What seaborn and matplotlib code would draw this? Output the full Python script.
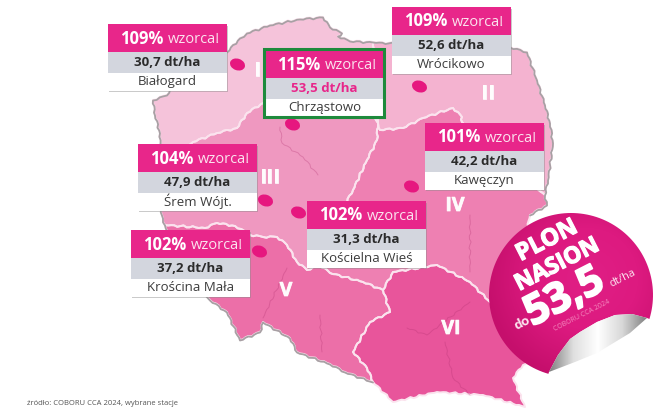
import numpy as np
import matplotlib
matplotlib.use("Agg")
import matplotlib.pyplot as plt
import matplotlib.path as mpath
import matplotlib.patheffects as pe
from matplotlib.patches import Polygon, Rectangle
from matplotlib.transforms import Affine2D
from matplotlib.colors import LinearSegmentedColormap
import pandas as pd
import seaborn as sns

# station data
stations = ["Białogard", "Chrząstowo", "Wrócikowo", "Kawęczyn", "Śrem Wójt.", "Kościelna Wieś", "Krościna Mała"]
pct = [109, 115, 109, 101, 104, 102, 102]
yields = ["30,7", "53,5", "52,6", "42,2", "47,9", "31,3", "37,2"]
dot_x = [237, 292, 419, 411, 265, 298, 259]
dot_y = [64, 124, 86, 186, 200, 212, 251]
box_x = [108, 265, 392, 425, 138, 307, 131]
box_y = [24, 50, 7, 123, 144, 201, 230]

numerals = ["I", "II", "III", "IV", "V", "VI"]
numeral_x = [258, 488, 270, 455, 286, 451]
numeral_y = [71, 94, 178, 206, 291, 329]

# map regions, traced in picture pixels
regions = {
    "I": [(193, 142), (185, 146), (160, 150), (160, 133), (155, 115), (153, 100), (167, 95), (180, 75), (205, 62),
          (227, 52), (240, 38), (247, 33), (270, 25), (300, 19), (323, 17), (330, 27), (342, 33), (338, 36), (350, 41),
          (373, 42), (375, 80), (378, 123), (375, 115), (263, 103), (247, 113), (237, 128), (217, 133)],
    "II": [(373, 42), (420, 45), (510, 47), (527, 52), (537, 80), (545, 105), (550, 123), (553, 143), (548, 180),
           (545, 195), (490, 150), (462, 122), (462, 117), (453, 108), (423, 118), (403, 128), (380, 130), (378, 123),
           (375, 80)],
    "III": [(193, 142), (217, 133), (237, 128), (247, 113), (263, 103), (375, 115), (378, 123), (377, 140), (367, 160),
            (353, 190), (345, 205), (320, 265), (307, 270), (297, 262), (287, 245), (277, 237), (263, 237), (250, 235),
            (235, 226), (217, 223), (205, 228), (165, 225), (163, 218), (155, 190), (160, 150), (185, 146)],
    "IV": [(378, 123), (380, 130), (403, 128), (423, 118), (453, 108), (462, 117), (462, 122), (490, 150), (545, 195),
           (547, 205), (530, 215), (520, 260), (490, 302), (470, 282), (437, 265), (393, 272), (383, 290), (363, 282),
           (330, 273), (320, 265), (345, 205), (353, 190), (367, 160), (377, 140)],
    "V": [(217, 223), (235, 226), (250, 235), (263, 237), (277, 237), (287, 245), (297, 262), (307, 270), (320, 265),
          (330, 273), (363, 282), (383, 290), (390, 312), (370, 322), (353, 352), (367, 368), (373, 382), (345, 372),
          (330, 364), (297, 352), (290, 338), (263, 322), (260, 332), (240, 340), (227, 312), (210, 300), (180, 270),
          (165, 225), (205, 228)],
    "VI": [(393, 272), (437, 265), (470, 282), (490, 302), (520, 340), (530, 360), (523, 365), (513, 378), (525, 407),
           (483, 395), (437, 392), (393, 402), (373, 382), (367, 368), (353, 352), (370, 322), (390, 312), (383, 290)],
}
region_colors = {"I": "#F5C3DA", "II": "#F4B3D0", "III": "#EF98C0", "IV": "#EE80B2", "V": "#EC6FA8", "VI": "#E8559B"}
outline = [(160, 150), (160, 133), (155, 115), (153, 100), (167, 95), (180, 75), (205, 62), (227, 52), (240, 38),
           (247, 33), (270, 25), (300, 19), (323, 17), (330, 27), (342, 33), (338, 36), (350, 41), (373, 42),
           (420, 45), (510, 47), (527, 52), (537, 80), (545, 105), (550, 123), (553, 143), (548, 180), (545, 195),
           (547, 205), (530, 215)]
outline_south = [(373, 382), (345, 372), (330, 364), (297, 352), (290, 338), (263, 322), (260, 332), (240, 340),
                 (227, 312), (210, 300), (180, 270), (165, 225), (163, 218), (155, 190), (160, 150)]
inner_lines = [[(280, 127), (282, 143), (303, 157), (318, 175)],
               [(470, 215), (470, 272)],
               [(445, 342), (453, 378), (470, 395)],
               [(407, 328), (427, 335), (470, 302)],
               [(287, 268), (263, 318)],
               [(320, 315), (322, 352)]]

PINK = "#E8268A"
GREY = "#D3D6DE"
DARK = "#2B2B2B"


def wiggle(pts, closed=False):
    # small regular ripple so the borders are not straight; same result for a shared edge in either direction
    seq = list(pts) + ([pts[0]] if closed else [])
    out = [seq[0]]
    for p, q in zip(seq[:-1], seq[1:]):
        flip = q < p
        a, b = (np.array(q, float), np.array(p, float)) if flip else (np.array(p, float), np.array(q, float))
        d = b - a
        n = max(int(np.hypot(*d) / 3), 2)
        t = np.linspace(0, 1, n + 1)
        nrm = np.array([-d[1], d[0]]) / (np.hypot(*d) + 1e-9)
        off = 1.1 * np.sin(t * n * 1.9) * np.sin(np.pi * t)
        seg = a + np.outer(t, d) + np.outer(off, nrm)
        if flip:
            seg = seg[::-1]
        out.extend(map(tuple, seg[1:]))
    return np.array(out)


sns.set_theme(style="white")
plt.rcParams["font.family"] = ["Open Sans", "DejaVu Sans"]

fig = plt.figure(figsize=(6.55, 4.09), dpi=100)
ax = fig.add_axes([0, 0, 1, 1])

# map
for name, pts in regions.items():
    w_pts = wiggle(pts, closed=True)
    ax.add_patch(Polygon(w_pts, closed=True, fc=region_colors[name], ec="none", zorder=1))
    ax.add_patch(Polygon(w_pts, closed=True, fc="none", ec="#FBE3EE", lw=1.4, zorder=2, joinstyle="round"))
for line in inner_lines:
    w_line = wiggle(line)
    ax.plot(w_line[:, 0], w_line[:, 1], color="#B0306F", alpha=0.3, lw=0.7, zorder=2)
for line in [outline, outline_south]:
    w_line = wiggle(line)
    ax.plot(w_line[:, 0], w_line[:, 1] + 0.5, color="#A8A0A4", lw=1.3, zorder=2.5, solid_capstyle="round")

for i, label in enumerate(numerals):
    ax.text(numeral_x[i], numeral_y[i], label, color="white", alpha=0.85, fontsize=14, fontweight="bold",
            ha="center", va="center", zorder=3,
            path_effects=[pe.withStroke(linewidth=0.6, foreground="white")])

# station dots
df = pd.DataFrame({"x": dot_x, "y": dot_y})
egg = mpath.Path.unit_circle().transformed(Affine2D().scale(1, 0.75).rotate_deg(-20))
sns.scatterplot(data=df, x="x", y="y", ax=ax, marker=egg, s=125, color="#E6177F", linewidth=0, zorder=4, legend=False)

# station labels
for i, name in enumerate(stations):
    x, y = box_x[i], box_y[i]
    w = 119
    ax.add_patch(Rectangle((x + 1, y + 2), w, 66, fc="#8A8A8A", alpha=0.45, ec="none", zorder=5))
    ax.add_patch(Rectangle((x, y), w, 28, fc=PINK, ec="none", zorder=6))
    ax.add_patch(Rectangle((x, y + 28), w, 21, fc=GREY, ec="none", zorder=6))
    ax.add_patch(Rectangle((x, y + 49), w, 18, fc="white", ec="none", zorder=6))
    best = pct[i] == max(pct)
    ax.text(x + 12, y + 14.5, f"{pct[i]}%", color="white", fontsize=12, fontweight="bold", va="center", zorder=7)
    ax.text(x + 60, y + 15.5, "wzorca!", color="#FBE3EE", fontsize=10.5, va="center", zorder=7)
    ax.text(x + w / 2, y + 38.5, f"{yields[i]} dt/ha", color=PINK if best else DARK, fontsize=9.5,
            fontweight="bold", ha="center", va="center", zorder=7)
    ax.text(x + w / 2, y + 57.5, name, color="#3C3C3C", fontsize=9.5, ha="center", va="center", zorder=7)
    if best:
        ax.add_patch(Rectangle((x - 1, y - 1), w + 1, 68, fc="none", ec="#1E8A3C", lw=2.2, zorder=8))

# sticker
cx, cy, r = 571, 295, 82
angles = np.radians(np.linspace(106, 377, 120))
arc = np.column_stack([cx + r * np.cos(angles), cy + r * np.sin(angles)])
curl_top = [(647, 318), (632, 314), (615, 315), (597, 322), (580, 332), (570, 339), (558, 355), (549, 372)]
curl_low = [(549, 372), (575, 362), (597, 353), (630, 333), (647, 318)]
sticker = Polygon(np.vstack([arc, curl_top]), closed=True, transform=ax.transData)
peel = Polygon(curl_top + curl_low, closed=True, transform=ax.transData)

yy, xx = np.mgrid[0:1:200j, 0:1:200j]
radial = np.hypot(xx - 0.6, yy - 0.4) * 1.6
sticker_cmap = LinearSegmentedColormap.from_list("st", ["#E01F85", "#DD1A80", "#C50F6C"])
im = ax.imshow(radial, extent=(cx - r, cx + r, cy + r, cy - r), cmap=sticker_cmap, vmin=0, vmax=1,
               aspect="auto", zorder=9)
ax.add_patch(sticker)
sticker.set_visible(False)
im.set_clip_path(sticker)

peel_cmap = LinearSegmentedColormap.from_list("pl", ["#7F7F7F", "#E0E0E0", "#FFFFFF", "#D8D8D8", "#808080"])
grad = np.linspace(0, 1, 200).reshape(1, -1)
im2 = ax.imshow(grad, extent=(549, 647, 372, 314), cmap=peel_cmap, aspect="auto", zorder=9)
ax.add_patch(peel)
peel.set_visible(False)
im2.set_clip_path(peel)

tilt = 27
thick = [pe.withStroke(linewidth=0.9, foreground="white")]
ax.text(547, 241, "PLON", color="white", fontsize=17, fontweight="bold", rotation=tilt, ha="center", va="center",
        rotation_mode="anchor", zorder=10, path_effects=thick)
ax.text(557, 265, "NASION", color="white", fontsize=16.5, fontweight="bold", rotation=tilt, ha="center", va="center",
        rotation_mode="anchor", zorder=10, path_effects=thick)
ax.text(565, 298, "53,5", color="white", fontsize=30, fontweight="bold", rotation=tilt, ha="center", va="center",
        rotation_mode="anchor", zorder=10, path_effects=[pe.withStroke(linewidth=1.4, foreground="white")])
ax.text(623, 278, "dt/ha", color="#FBE3EE", fontsize=8, rotation=tilt, ha="center", va="center",
        rotation_mode="anchor", zorder=10)
ax.text(522, 323, "do", color="#FBE3EE", fontsize=9.5, fontweight="bold", rotation=tilt, ha="center", va="center",
        rotation_mode="anchor", zorder=10)
ax.text(582, 316, "COBORU CCA 2024", color="#F58CC0", fontsize=5, rotation=tilt, ha="center", va="center",
        rotation_mode="anchor", zorder=10)

ax.text(27, 400, "źródło: COBORU CCA 2024, wybrane stacje", color="#555555", fontsize=5.5, va="top", zorder=10)

ax.set_xlim(0, 655)
ax.set_ylim(409, 0)
ax.axis("off")
fig.savefig("out.png", dpi=100)
